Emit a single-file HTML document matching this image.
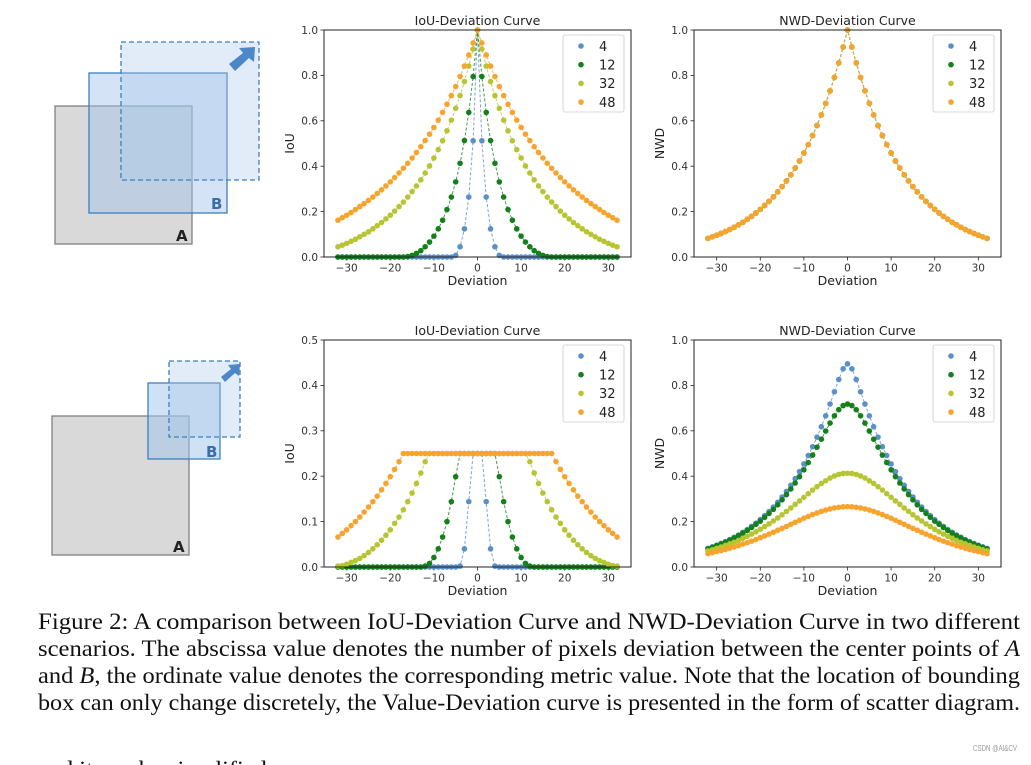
<!DOCTYPE html>
<html><head><meta charset="utf-8">
<style>
html,body{margin:0;padding:0;background:#fff;}
svg{display:block;}
.tk{font-family:"DejaVu Sans","Liberation Sans",sans-serif;font-size:10.5px;fill:#333;}
.lb{font-family:"DejaVu Sans","Liberation Sans",sans-serif;font-size:12.5px;fill:#222;}
.lg{font-family:"DejaVu Sans","Liberation Sans",sans-serif;font-size:13px;fill:#222;}
.cap{font-family:"Liberation Serif",serif;font-size:23px;fill:#111;}
</style></head>
<body>
<svg id="fig" width="1031" height="765" viewBox="0 0 1031 765" xmlns="http://www.w3.org/2000/svg">
  <g>
    <rect x="55" y="106" width="137" height="138" fill="#d9d9d9" stroke="#808080" stroke-width="1.3"/>
    <rect x="89" y="73" width="138" height="140" fill="rgba(160,195,235,0.45)" stroke="#3d7fc0" stroke-width="1.3"/>
    <rect x="121" y="42" width="138" height="138" fill="rgba(170,200,235,0.35)" stroke="#3d7fc0" stroke-width="1.3" stroke-dasharray="5,3"/>
    <polygon points="229,64 243,53 239,48 255,47 254,62 249,58 235,71" fill="#4a88c8"/>
    <text x="211" y="209" font-family="DejaVu Sans,sans-serif" font-size="15" font-weight="bold" fill="#3a6ea5">B</text>
    <text x="176" y="241" font-family="DejaVu Sans,sans-serif" font-size="15" font-weight="bold" fill="#222">A</text>
  </g>
  <g>
    <rect x="52" y="416" width="137" height="139" fill="#d9d9d9" stroke="#808080" stroke-width="1.3"/>
    <rect x="148" y="383" width="72" height="76" fill="rgba(160,195,235,0.5)" stroke="#3d7fc0" stroke-width="1.3"/>
    <rect x="169" y="361" width="71" height="76" fill="rgba(170,200,235,0.35)" stroke="#3d7fc0" stroke-width="1.3" stroke-dasharray="5,3"/>
    <polygon points="221,377 231,369 228,365 240,364 239,376 235,373 225,382" fill="#4a88c8"/>
    <text x="206" y="457" font-family="DejaVu Sans,sans-serif" font-size="15" font-weight="bold" fill="#3a6ea5">B</text>
    <text x="173" y="552" font-family="DejaVu Sans,sans-serif" font-size="15" font-weight="bold" fill="#222">A</text>
  </g>
  <g id="charts"></g>
  <g>
    <text class="cap" x="38" y="629" textLength="982" lengthAdjust="spacingAndGlyphs">Figure 2: A comparison between IoU-Deviation Curve and NWD-Deviation Curve in two different</text>
    <text class="cap" x="38" y="656" textLength="982" lengthAdjust="spacingAndGlyphs">scenarios. The abscissa value denotes the number of pixels deviation between the center points of <tspan font-style="italic">A</tspan></text>
    <text class="cap" x="38" y="683" textLength="982" lengthAdjust="spacingAndGlyphs">and <tspan font-style="italic">B</tspan>, the ordinate value denotes the corresponding metric value. Note that the location of bounding</text>
    <text class="cap" x="38" y="710" textLength="982" lengthAdjust="spacingAndGlyphs">box can only change discretely, the Value-Deviation curve is presented in the form of scatter diagram.</text>
    <text class="cap" x="38" y="777" textLength="262" lengthAdjust="spacingAndGlyphs">and it can be simplified as:</text>
  </g>
  <text x="973" y="751" textLength="44" lengthAdjust="spacingAndGlyphs" font-family="Liberation Sans,sans-serif" font-size="8.5" fill="#999">CSDN @AI&amp;CV</text>
</svg>
<script>
const deviations = [-32,-31,-30,-29,-28,-27,-26,-25,-24,-23,-22,-21,-20,-19,-18,-17,-16,-15,-14,-13,-12,-11,-10,-9,-8,-7,-6,-5,-4,-3,-2,-1,0,1,2,3,4,5,6,7,8,9,10,11,12,13,14,15,16,17,18,19,20,21,22,23,24,25,26,27,28,29,30,31,32];
const seriesLabels = ["4","12","32","48"];
const xTicks = [-30,-20,-10,0,10,20,30];
const xTickLabels = ["\u221230","\u221220","\u221210","0","10","20","30"];
const yTicksUnit = [0,0.2,0.4,0.6,0.8,1.0];
const yTickLabelsUnit = ["0.0","0.2","0.4","0.6","0.8","1.0"];
const yTicksHalf = [0,0.1,0.2,0.3,0.4,0.5];
const yTickLabelsHalf = ["0.0","0.1","0.2","0.3","0.4","0.5"];

const topIou4 = [0,0,0,0,0,0,0,0,0,0,0,0,0,0,0,0,0,0,0,0,0,0,0,0,0,0,0,.007,.045,.124,.264,.512,1,.512,.264,.124,.045,.007,0,0,0,0,0,0,0,0,0,0,0,0,0,0,0,0,0,0,0,0,0,0,0,0,0,0,0];
const topIou12 = [0,0,0,0,0,0,0,0,0,0,0,0,0,0,0,0,.002,.007,.016,.028,.045,.066,.092,.124,.162,.209,.264,.331,.413,.513,.637,.795,1,.795,.637,.513,.413,.331,.264,.209,.162,.124,.092,.066,.045,.028,.016,.007,.002,0,0,0,0,0,0,0,0,0,0,0,0,0,0,0,0];
const topIou32 = [.045,.052,.060,.069,.078,.089,.100,.111,.124,.138,.152,.168,.184,.202,.222,.242,.264,.288,.313,.340,.370,.401,.436,.473,.512,.556,.603,.655,.711,.773,.841,.916,1,.916,.841,.773,.711,.655,.603,.556,.512,.473,.436,.401,.370,.340,.313,.288,.264,.242,.222,.202,.184,.168,.152,.138,.124,.111,.100,.089,.078,.069,.060,.052,.045];
const topIou48 = [.162,.173,.184,.196,.209,.222,.235,.249,.264,.280,.296,.313,.331,.350,.370,.391,.413,.436,.460,.486,.513,.541,.571,.603,.637,.673,.711,.751,.795,.841,.890,.943,1,.943,.890,.841,.795,.751,.711,.673,.637,.603,.571,.541,.513,.486,.460,.436,.413,.391,.370,.350,.331,.313,.296,.280,.264,.249,.235,.222,.209,.196,.184,.173,.162];

const topNwd4 = [.082,.089,.096,.104,.112,.121,.131,.142,.153,.166,.179,.194,.210,.227,.245,.265,.287,.310,.335,.362,.392,.423,.458,.495,.535,.579,.626,.677,.732,.791,.855,.925,1,.925,.855,.791,.732,.677,.626,.579,.535,.495,.458,.423,.392,.362,.335,.310,.287,.265,.245,.227,.210,.194,.179,.166,.153,.142,.131,.121,.112,.104,.096,.089,.082];
const topNwd12 = [.082,.089,.096,.104,.112,.121,.131,.142,.153,.166,.179,.194,.210,.227,.245,.265,.287,.310,.335,.362,.392,.423,.458,.495,.535,.579,.626,.677,.732,.791,.855,.925,1,.925,.855,.791,.732,.677,.626,.579,.535,.495,.458,.423,.392,.362,.335,.310,.287,.265,.245,.227,.210,.194,.179,.166,.153,.142,.131,.121,.112,.104,.096,.089,.082];
const topNwd32 = [.082,.089,.096,.104,.112,.121,.131,.142,.153,.166,.179,.194,.210,.227,.245,.265,.287,.310,.335,.362,.392,.423,.458,.495,.535,.579,.626,.677,.732,.791,.855,.925,1,.925,.855,.791,.732,.677,.626,.579,.535,.495,.458,.423,.392,.362,.335,.310,.287,.265,.245,.227,.210,.194,.179,.166,.153,.142,.131,.121,.112,.104,.096,.089,.082];
const topNwd48 = [.082,.089,.096,.104,.112,.121,.131,.142,.153,.166,.179,.194,.210,.227,.245,.265,.287,.310,.335,.362,.392,.423,.458,.495,.535,.579,.626,.677,.732,.791,.855,.925,1,.925,.855,.791,.732,.677,.626,.579,.535,.495,.458,.423,.392,.362,.335,.310,.287,.265,.245,.227,.210,.194,.179,.166,.153,.142,.131,.121,.112,.104,.096,.089,.082];

const botIou4 = [0,0,0,0,0,0,0,0,0,0,0,0,0,0,0,0,0,0,0,0,0,0,0,0,0,0,0,0,.002,.040,.144,.25,.25,.25,.144,.040,.002,0,0,0,0,0,0,0,0,0,0,0,0,0,0,0,0,0,0,0,0,0,0,0,0,0,0,0,0];
const botIou12 = [0,0,0,0,0,0,0,0,0,0,0,0,0,0,0,0,0,0,0,0,.002,.008,.021,.040,.066,.100,.144,.199,.25,.25,.25,.25,.25,.25,.25,.25,.25,.199,.144,.100,.066,.040,.021,.008,.002,0,0,0,0,0,0,0,0,0,0,0,0,0,0,0,0,0,0,0,0];
const botIou32 = [.002,.003,.006,.010,.014,.019,.025,.032,.040,.049,.059,.070,.082,.096,.110,.126,.144,.163,.184,.207,.232,.25,.25,.25,.25,.25,.25,.25,.25,.25,.25,.25,.25,.25,.25,.25,.25,.25,.25,.25,.25,.25,.25,.25,.232,.207,.184,.163,.144,.126,.110,.096,.082,.070,.059,.049,.040,.032,.025,.019,.014,.010,.006,.003,.002];
const botIou48 = [.066,.074,.082,.091,.100,.110,.121,.132,.144,.156,.170,.184,.199,.215,.232,.25,.25,.25,.25,.25,.25,.25,.25,.25,.25,.25,.25,.25,.25,.25,.25,.25,.25,.25,.25,.25,.25,.25,.25,.25,.25,.25,.25,.25,.25,.25,.25,.25,.25,.25,.232,.215,.199,.184,.170,.156,.144,.132,.121,.110,.100,.091,.082,.074,.066];

const botNwd4 = [.082,.089,.096,.104,.112,.121,.131,.141,.153,.165,.179,.193,.209,.226,.244,.264,.285,.308,.333,.360,.389,.420,.454,.491,.530,.572,.618,.666,.718,.772,.826,.873,.895,.873,.826,.772,.718,.666,.618,.572,.530,.491,.454,.420,.389,.360,.333,.308,.285,.264,.244,.226,.209,.193,.179,.165,.153,.141,.131,.121,.112,.104,.096,.089,.082];
const botNwd12 = [.080,.087,.094,.101,.109,.118,.128,.138,.149,.161,.174,.188,.202,.219,.236,.254,.274,.296,.319,.344,.370,.398,.428,.460,.493,.528,.563,.599,.634,.666,.693,.711,.718,.711,.693,.666,.634,.599,.563,.528,.493,.460,.428,.398,.370,.344,.319,.296,.274,.254,.236,.219,.202,.188,.174,.161,.149,.138,.128,.118,.109,.101,.094,.087,.080];
const botNwd32 = [.071,.076,.082,.088,.095,.102,.109,.117,.126,.135,.145,.155,.166,.178,.190,.203,.216,.230,.245,.260,.276,.291,.307,.323,.339,.354,.368,.380,.392,.401,.408,.412,.413,.412,.408,.401,.392,.380,.368,.354,.339,.323,.307,.291,.276,.260,.245,.230,.216,.203,.190,.178,.166,.155,.145,.135,.126,.117,.109,.102,.095,.088,.082,.076,.071];
const botNwd48 = [.059,.063,.068,.072,.077,.083,.088,.094,.101,.107,.114,.121,.129,.137,.145,.153,.162,.170,.179,.188,.197,.206,.215,.223,.231,.238,.245,.251,.256,.260,.263,.265,.266,.265,.263,.260,.256,.251,.245,.238,.231,.223,.215,.206,.197,.188,.179,.170,.162,.153,.145,.137,.129,.121,.114,.107,.101,.094,.088,.083,.077,.072,.068,.063,.059];

const colors = ["#5b8fc8","#13801a","#b7c533","#f7a42e"];
const NS = "http://www.w3.org/2000/svg";
function mk(tag, attrs, parent){ const e=document.createElementNS(NS,tag); for(const k in attrs) e.setAttribute(k,attrs[k]); parent.appendChild(e); return e; }

function drawChart(cfg){
  const root = document.getElementById('charts');
  const g = mk('g',{},root);
  
  
  const L=cfg.x, T=cfg.y, W=307, H=227;
  const xMin=-35.2, xMax=35.2;
  const sx = v => L + (v - xMin)/(xMax - xMin)*W;
  const sy = v => T + H - (v / cfg.yMax)*H;
  xTicks.forEach((t,i)=>{
    const tk = mk('line',{x1:sx(t),x2:sx(t),y1:T+H,y2:T+H+3.5,stroke:'#222','stroke-width':0.8},g);
    
    
    const tx = mk('text',{x:sx(t),y:T+H+14.5,'text-anchor':'middle',class:'tk'},g);
    tx.textContent = xTickLabels[i];
    
    
  });
  cfg.yTicks.forEach((t,i)=>{
    const tk = mk('line',{x1:L-3.5,x2:L,y1:sy(t),y2:sy(t),stroke:'#222','stroke-width':0.8},g);
    
    
    const tx = mk('text',{x:L-6,y:sy(t)+3.8,'text-anchor':'end',class:'tk'},g);
    tx.textContent = cfg.yLabels[i];
    
    
  });
  const title = mk('text',{x:L+W/2,y:T-5,'text-anchor':'middle',class:'lb'},g);
  title.textContent = cfg.title;
  
  
  const xl = mk('text',{x:L+W/2,y:T+H+28,'text-anchor':'middle',class:'lb'},g);
  xl.textContent = 'Deviation';
  
  
  const yl = mk('text',{x:0,y:0,'text-anchor':'middle',class:'lb',transform:`translate(${L-30},${T+H/2}) rotate(-90)`},g);
  yl.textContent = cfg.yTitle;
  
  
  cfg.series.forEach((vals,si)=>{
    const sg = mk('g',{},g);
    
    
    const pts = vals.map((v,i)=>sx(deviations[i]).toFixed(2)+','+sy(v).toFixed(2)).join(' ');
    const pl = mk('polyline',{points:pts,fill:'none',stroke:colors[si],'stroke-width':1,'stroke-dasharray':'3,2','stroke-opacity':0.8},sg);
    
    
    vals.forEach((v,i)=>{
      const c = mk('circle',{cx:sx(deviations[i]),cy:sy(v),r:2.8,fill:colors[si]},sg);
      
      
    });
  });
  const frame = mk('rect',{x:L,y:T,width:W,height:H,fill:'none',stroke:'#222','stroke-width':1},g);
  
  
  const lg = mk('g',{},g);
  
  
  const lx = L+W-68, ly = T+5;
  mk('rect',{x:lx,y:ly,width:61,height:77,rx:2,fill:'#fff','fill-opacity':0.85,stroke:'#ccc','stroke-width':0.8},lg);
  seriesLabels.forEach((s,i)=>{
    const c = mk('circle',{cx:lx+18,cy:ly+11+i*18.7,r:2.8,fill:colors[i]},lg);
    
    
    const t = mk('text',{x:lx+36,y:ly+15.8+i*18.7,class:'lg'},lg);
    t.textContent = s;
    
    
  });
}

drawChart({name:'iou-chart-top',x:324,y:30,yMax:1,yTicks:yTicksUnit,yLabels:yTickLabelsUnit,title:'IoU-Deviation Curve',yTitle:'IoU',series:[topIou4,topIou12,topIou32,topIou48]});
drawChart({name:'nwd-chart-top',x:694,y:30,yMax:1,yTicks:yTicksUnit,yLabels:yTickLabelsUnit,title:'NWD-Deviation Curve',yTitle:'NWD',series:[topNwd4,topNwd12,topNwd32,topNwd48]});
drawChart({name:'iou-chart-bottom',x:324,y:340,yMax:0.5,yTicks:yTicksHalf,yLabels:yTickLabelsHalf,title:'IoU-Deviation Curve',yTitle:'IoU',series:[botIou4,botIou12,botIou32,botIou48]});
drawChart({name:'nwd-chart-bottom',x:694,y:340,yMax:1,yTicks:yTicksUnit,yLabels:yTickLabelsUnit,title:'NWD-Deviation Curve',yTitle:'NWD',series:[botNwd4,botNwd12,botNwd32,botNwd48]});
</script>
</body></html>
